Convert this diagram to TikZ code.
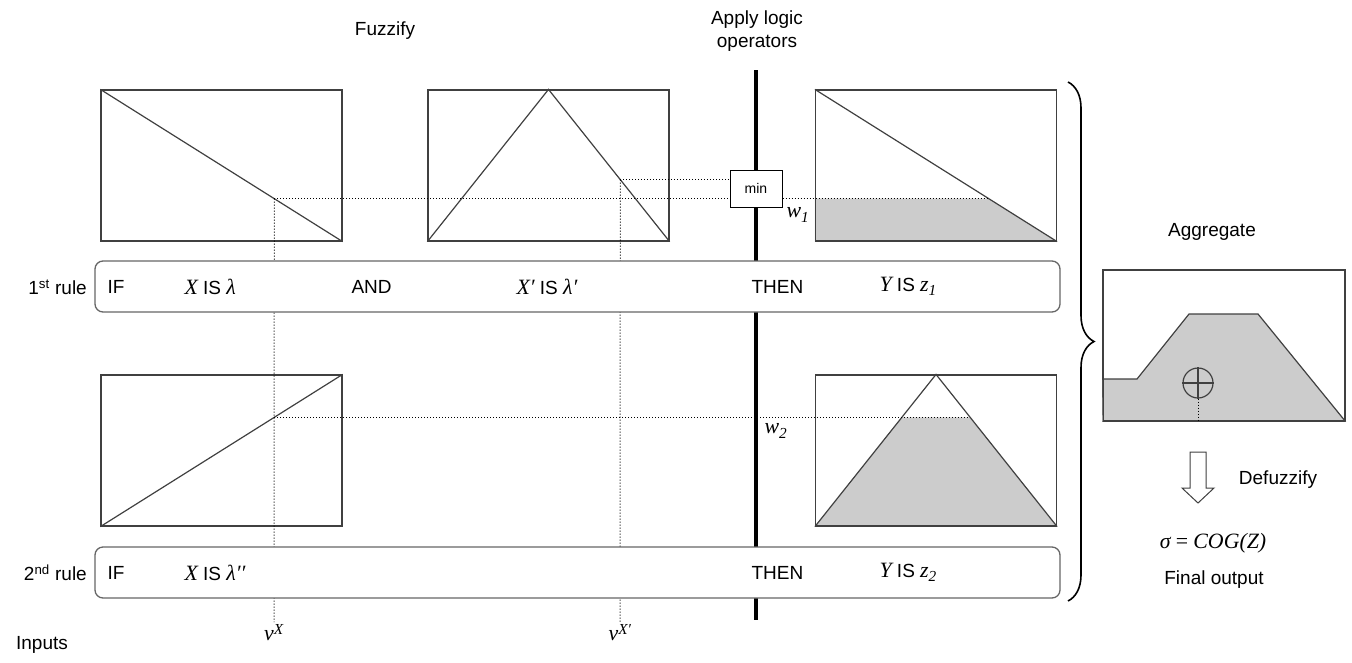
\documentclass[tikz,border=0pt]{standalone}
\usepackage{fontspec}
\setmainfont{Liberation Sans}
\newfontfamily\timesfont[Scale=1.15]{Liberation Serif}
\newcommand{\mv}[1]{{\timesfont\itshape #1}}
\usetikzlibrary{calc,positioning,decorations.pathreplacing}
\definecolor{sombra}{gray}{0.8}
\definecolor{borde}{gray}{0.25}
\tikzstyle{panel} = [draw=borde, line width=1.2pt, rectangle, minimum width=241pt, minimum height=151pt, inner sep=0pt]
\tikzstyle{rulebox} = [draw=gray!80!black, fill=white, line width=1.3pt, rectangle, rounded corners=8pt, minimum width=965pt, minimum height=51pt]
\tikzstyle{mfline} = [draw=borde, line width=1.2pt]
\tikzstyle{guide} = [dotted, line width=1pt]
\tikzstyle{rulelabel} = [anchor=west, inner sep=0pt]

\begin{document}
\begin{tikzpicture}[x=1pt, y=-1pt, font=\fontsize{19}{23}\selectfont]
	\useasboundingbox (0,0) rectangle (1352,662);
	% panels
	\node[panel] (b1) at (221.5,165.5) {};
	\node[panel] (b2) at (548.5,165.5) {};
	\node[panel] (b3) at (936,165.5) {};
	\node[panel] (b4) at (221.5,450.5) {};
	\node[panel] (b5) at (936,450.5) {};
	\node[panel, minimum width=242pt] (agg) at (1224,345.5) {};
	% cut points
	\coordinate (pX) at ($(b1.north west)!0.718!(b1.south east)$);
	\coordinate (pXp) at ($(b2.north)!0.593!(b2.south east)$);
	\coordinate (pX2) at ($(b4.south west)!0.718!(b4.north east)$);
	\coordinate (cut1) at ($(b3.north west)!0.718!(b3.south east)$);
	\coordinate (cut2l) at ($(b5.north)!0.282!(b5.south west)$);
	\coordinate (cut2r) at ($(b5.north)!0.282!(b5.south east)$);
	% shaded outputs
	\fill[sombra] (b3.south west) -- (b3.west |- cut1) -- (cut1) -- (b3.south east) -- cycle;
	\fill[sombra] (b5.south west) -- (cut2l) -- (cut2r) -- (b5.south east) -- cycle;
	\fill[sombra] (agg.south west) -- (1103,379) -- (1137,379) -- (1189,314) -- (1258,314) -- (agg.south east) -- cycle;
	\draw[mfline] (1103,379) -- (1137,379) -- (1189,314) -- (1258,314) -- (agg.south east);
	\node[panel] at (agg) {};
	\node[panel] at (b3) {};
	\node[panel] at (b5) {};
	% membership lines
	\draw[mfline] (b1.north west) -- (b1.south east);
	\draw[mfline] (b2.south west) -- (b2.north) -- (b2.south east);
	\draw[mfline] (b3.north west) -- (b3.south east);
	\draw[mfline] (b4.south west) -- (b4.north east);
	\draw[mfline] (b5.south west) -- (b5.north) -- (b5.south east);
	% inputs
	\node[anchor=north, inner sep=2pt] (vX) at (274,622) {\mv{v}\textsuperscript{\mv{X}}};
	\node[anchor=north, inner sep=2pt] (vXp) at (620,622) {\mv{v}\textsuperscript{\mv{X′}}};
	\node (inputs) at (42,645) {Inputs};
	\draw[guide] (pX) -- (vX.north);
	\draw[guide] (pXp) -- (vXp.north);
	% logic operators
	\coordinate (optop) at (756,70);
	\coordinate (opbot) at (756,620);
	\draw[line width=4.5pt] (optop) -- (opbot);
	\node[draw, fill=white, line width=1pt, minimum width=52pt, minimum height=37pt, font=\fontsize{14}{16}\selectfont] (minb) at (756,188.5) {min};
	\draw[guide] (pX) -- (pX -| minb.west);
	\draw[guide] (pXp) -- (pXp -| minb.west);
	\draw[guide] (pX -| minb.east) -- (cut1);
	\draw[guide] (pX2) -- (cut2r);
	\node (w1) at (798,215) {\mv{w}\textsubscript{\mv{1}}};
	\node (w2) at (776,431) {\mv{w}\textsubscript{\mv{2}}};
	% rules
	\node[rulebox] (r1) at (577.5,286.5) {};
	\node[rulebox] (r2) at (577.5,572.5) {};
	\node[anchor=east, inner sep=0pt] at (87,287) {1\textsuperscript{st} rule};
	\node[anchor=east, inner sep=0pt] at (87,573) {2\textsuperscript{nd} rule};
	\node[rulelabel, right=13pt] at (r1.west) {IF};
	\node[rulelabel, right=90pt] at (r1.west) {\mv{X} IS \mv{λ}};
	\node[rulelabel, right=257pt] at (r1.west) {AND};
	\node[rulelabel, right=422pt] at (r1.west) {\mv{X′} IS \mv{λ′}};
	\node[rulelabel, right=657pt] at (r1.west) {THEN};
	\node[rulelabel, right=785pt] at (r1.west) {\mv{Y} IS \mv{z}\textsubscript{\mv{1}}};
	\node[rulelabel, right=13pt] at (r2.west) {IF};
	\node[rulelabel, right=90pt] at (r2.west) {\mv{X} IS \mv{λ′′}};
	\node[rulelabel, right=657pt] at (r2.west) {THEN};
	\node[rulelabel, right=785pt] at (r2.west) {\mv{Y} IS \mv{z}\textsubscript{\mv{2}}};
	% titles
	\node (fuzz) at (385,31) {Fuzzify};
	\node[align=center] (apply) at (757,31) {Apply logic\\operators};
	% aggregation and output
	\draw[decorate, decoration={brace, amplitude=26pt}, line width=1.6pt] (1068,82) -- (1068,601);
	\node (aggt) at (1212,232) {Aggregate};
	\node[draw=borde, line width=1.2pt, circle, minimum size=30pt, inner sep=0pt] (cog) at (1198,383) {};
	\draw[line width=1.2pt, borde] (cog.north) -- (cog.south) (cog.west) -- (cog.east);
	\draw[guide] (cog.south) -- (cog.south |- agg.south);
	\draw[line width=1pt, borde, fill=white] (1190,452) -- (1206,452) -- (1206,488) -- (1214,488) -- (1198,503) -- (1182,488) -- (1190,488) -- cycle;
	\node (defuzz) at (1278,480) {Defuzzify};
	\node (sigma) at (1213,543) {\mv{σ} {\timesfont =} \mv{COG(Z)}};
	\node (final) at (1214,580) {Final output};
\end{tikzpicture}
\end{document}
